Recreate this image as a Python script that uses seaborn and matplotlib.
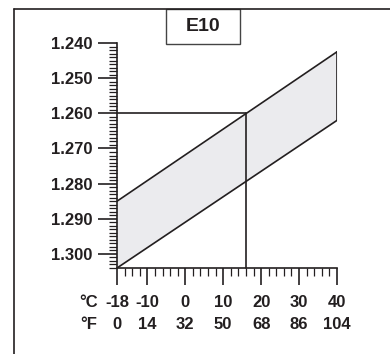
import numpy as np
import pandas as pd
import matplotlib
matplotlib.use("Agg")
import matplotlib.pyplot as plt
import seaborn as sns
from matplotlib.lines import Line2D
from matplotlib.patches import Rectangle
from matplotlib.ticker import MultipleLocator

# Dados da faixa de densidade (E10)
temp_c = [-18, 40]
dens_superior = [1.285, 1.2425]
dens_inferior = [1.304, 1.262]

ticks_c = [-18, -10, 0, 10, 20, 30, 40]
ticks_f = [0, 14, 32, 50, 68, 86, 104]
ticks_dens = [1.240, 1.250, 1.260, 1.270, 1.280, 1.290, 1.300]

temp_ref = 16
dens_ref = 1.260

df = pd.DataFrame({"temp": temp_c, "sup": dens_superior, "inf": dens_inferior})

sns.set_style("white")
plt.rcParams["font.family"] = ["Liberation Sans", "DejaVu Sans"]
plt.rcParams["font.weight"] = "bold"

cor = "#231f20"
fig = plt.figure(figsize=(3.9, 3.54), dpi=100)
ax = fig.add_axes([0.3, 0.2429, 0.5641, 0.6356])

# faixa cinza
ax.fill_between(df["temp"], df["sup"], df["inf"], color="#ebebee", lw=0)
sns.lineplot(data=df, x="temp", y="sup", color=cor, lw=1.2, ax=ax)
sns.lineplot(data=df, x="temp", y="inf", color=cor, lw=1.2, ax=ax)
ax.plot([temp_c[1], temp_c[1]], [dens_superior[1], dens_inferior[1]], color=cor, lw=1.2)

ax.set_xlim(temp_c[0], temp_c[1])
ax.set_ylim(dens_inferior[0], ticks_dens[0])

# linhas de referencia
ax.plot([temp_c[0], temp_ref], [dens_ref, dens_ref], color=cor, lw=1.2, clip_on=False)
ax.plot([temp_ref, temp_ref], [dens_inferior[0], dens_ref], color=cor, lw=1.2, clip_on=False)

ax.set_xticks(ticks_c, labels=[f"{c}\n{f}" for c, f in zip(ticks_c, ticks_f)])
ax.set_xticks(np.arange(temp_c[0], temp_c[1] + 1, 2), minor=True)
ax.set_yticks(ticks_dens, labels=[f"{d:.3f}" for d in ticks_dens])
ax.yaxis.set_minor_locator(MultipleLocator(0.001))
for lab in ax.get_xticklabels():
    lab.set_linespacing(1.6)

ax.tick_params(axis="both", which="both", direction="out", color=cor,
               bottom=True, left=True, labelsize=12, labelcolor=cor)
ax.tick_params(axis="y", which="major", length=14, width=1.2, pad=4)
ax.tick_params(axis="y", which="minor", length=6, width=0.9)
ax.tick_params(axis="x", which="major", length=12, width=1.2, pad=7.5)
ax.tick_params(axis="x", which="minor", length=6, width=0.9)

sns.despine(ax=ax)
for s in ["left", "bottom"]:
    ax.spines[s].set_color(cor)
    ax.spines[s].set_linewidth(1.2)
ax.set_xlabel("")
ax.set_ylabel("")

fig.text(0.227, 0.114, "°C\n°F", ha="center", va="center", fontsize=12,
         fontweight="bold", color=cor, linespacing=1.6)

# moldura e caixa do titulo
x0, y0 = 14 / 390, 1 - 9 / 354
fig.add_artist(Line2D([x0, x0], [0, y0], color=cor, lw=1.2))
fig.add_artist(Line2D([x0, 1], [y0, y0], color=cor, lw=1.2))
fig.add_artist(Rectangle((166 / 390, 1 - 44 / 354), 74 / 390, 35 / 354,
                         transform=fig.transFigure, fill=False, ec="#444444", lw=1))
fig.text(203 / 390, 1 - 26.5 / 354, "E10", ha="center", va="center",
         fontsize=14, fontweight="bold", color=cor)

fig.savefig("out.png", dpi=100)
